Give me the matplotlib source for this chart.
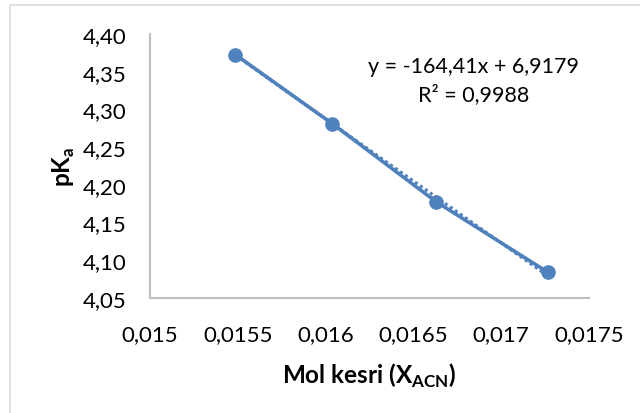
import matplotlib
matplotlib.use("Agg")
import matplotlib.pyplot as plt
import numpy as np
from matplotlib.patches import Rectangle

plt.rcParams['font.family'] = ['Lato', 'DejaVu Sans']
plt.rcParams['mathtext.fontset'] = 'custom'
plt.rcParams['mathtext.rm'] = 'Lato'
plt.rcParams['mathtext.bf'] = 'Lato:bold'

# Data
x_mol = [0.015486, 0.016038, 0.016629, 0.017267]
pka = [4.3727, 4.2811, 4.1777, 4.0839]
slope = -164.41
intercept = 6.9179
r2_text = "0,9988"
x_ticks = [0.015, 0.0155, 0.016, 0.0165, 0.017, 0.0175]
x_tick_labels = ["0,015", "0,0155", "0,016", "0,0165", "0,017", "0,0175"]
y_ticks = [4.05, 4.10, 4.15, 4.20, 4.25, 4.30, 4.35, 4.40]
y_tick_labels = ["4,05", "4,10", "4,15", "4,20", "4,25", "4,30", "4,35", "4,40"]

W, H = 640, 414
fig = plt.figure(figsize=(W/100, H/100), dpi=100)
fig.patch.set_facecolor('white')

# chart border
fig.patches.append(Rectangle((10/W, -0.1), 1.2, 1 - 6/H + 0.1, transform=fig.transFigure,
                             fill=False, edgecolor='#D9D9D9', linewidth=1.2))

ax = fig.add_axes([150/W, 1 - 299/H, (589-150)/W, (299-35)/H])
blue = '#4F81BD'

xs = np.array([min(x_mol), max(x_mol)])
ax.plot(xs, slope*xs + intercept, linestyle=(0, (1, 1)), color=blue, linewidth=2.2, zorder=2)
ax.plot(x_mol, pka, color=blue, linewidth=2.6, marker='o', markersize=9.5, zorder=3)

ax.set_xlim(0.015, 0.0175)
ax.set_ylim(4.05, 4.40)
ax.set_xticks(x_ticks)
ax.set_xticklabels(x_tick_labels)
ax.set_yticks(y_ticks)
ax.set_yticklabels(y_tick_labels)
ax.tick_params(length=0, labelsize=16, colors='#000000')
ax.tick_params(axis='x', pad=19)
ax.tick_params(axis='y', pad=17)
for s in ['top', 'right']:
    ax.spines[s].set_visible(False)
for s in ['left', 'bottom']:
    ax.spines[s].set_color('#BFBFBF')
    ax.spines[s].set_linewidth(1.5)

ax.set_xlabel(r"Mol kesri (X$_{\mathbf{ACN}}$)", fontsize=17.5, fontweight='bold', labelpad=12)
ax.set_ylabel(r"pK$_{\mathbf{a}}$", fontsize=17.5, fontweight='bold', labelpad=4)

fig.text(474/W, 1 - 81/H, "y = -164,41x + 6,9179\nR² = " + r2_text, ha='center', va='center',
         multialignment='center', fontsize=15.5, linespacing=1.4)

fig.savefig("out.png", dpi=100)
